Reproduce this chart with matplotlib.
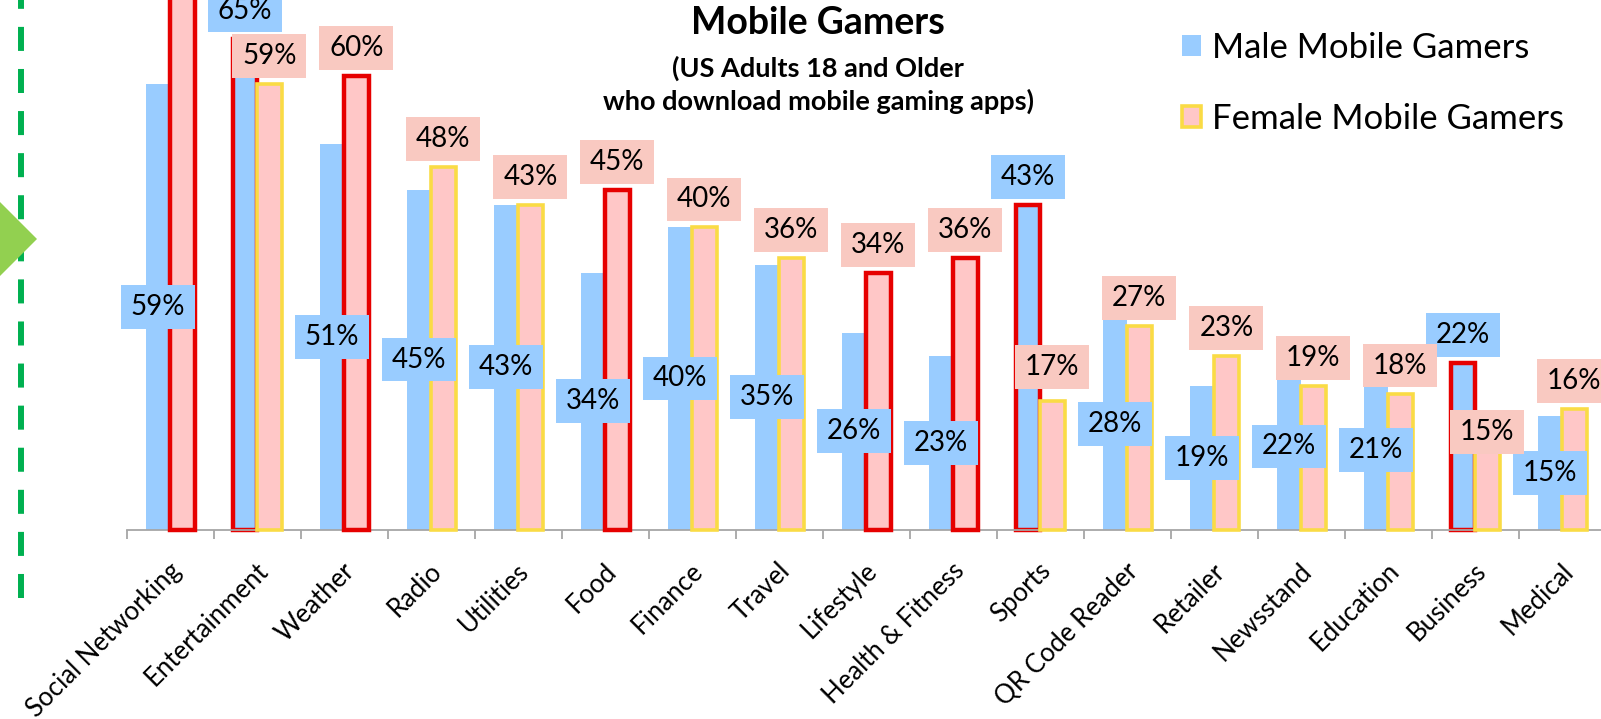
import numpy as np
import matplotlib
matplotlib.use("Agg")
import matplotlib.pyplot as plt
from matplotlib.patches import Rectangle, Polygon, Patch
from matplotlib.lines import Line2D
import matplotlib.transforms as mtransforms

plt.rcParams['font.family'] = ['Lato', 'DejaVu Sans']
plt.rcParams['lines.scale_dashes'] = False

categories = ["Social Networking", "Entertainment", "Weather", "Radio", "Utilities",
              "Food", "Finance", "Travel", "Lifestyle", "Health & Fitness", "Sports",
              "QR Code Reader", "Retailer", "Newsstand", "Education", "Business", "Medical"]
male = [59, 65, 51, 45, 43, 34, 40, 35, 26, 23, 43, 28, 19, 22, 21, 22, 15]
female = [72, 59, 60, 48, 43, 45, 40, 36, 34, 36, 17, 27, 23, 19, 18, 15, 16]

# categories where one gender is clearly ahead get a red outline
male_ahead = ["Entertainment", "Sports", "Business"]
female_ahead = ["Social Networking", "Weather", "Food", "Lifestyle", "Health & Fitness"]

BLUE = "#99CCFF"
PINK = "#FFC7C7"
PINK_BOX = "#F9C9C1"
RED = "#E60000"
YELLOW = "#FADB45"
GRAY = "#A6A6A6"

W, H = 1601, 719
fig = plt.figure(figsize=(W / 100, H / 100), dpi=100)
ax = fig.add_axes([126.7 / W, 1 - 529.5 / H, 17 * 87 / W, 529.5 / H])

x = np.arange(len(categories))
bw = 0.28
for i, cat in enumerate(categories):
    m_hi = cat in male_ahead
    f_hi = cat in female_ahead
    ax.bar(x[i] - bw / 2, male[i], bw, color=BLUE,
           edgecolor=RED if m_hi else BLUE, linewidth=3.2 if m_hi else 0,
           zorder=2, clip_on=False)
    ax.bar(x[i] + bw / 2, female[i], bw, color=PINK,
           edgecolor=RED if f_hi else YELLOW, linewidth=3.2 if f_hi else 2.6,
           zorder=3, clip_on=False)

# value labels in filled boxes
box_w, box_h = 0.85, 5.8
above = 3.7
female_shift = {"Sports": 4.5, "Business": -2.1}


def value_box(xc, yc, text, face, z):
    ax.add_patch(Rectangle((xc - box_w / 2, yc - box_h / 2), box_w, box_h,
                           facecolor=face, edgecolor="none", zorder=z, clip_on=False))
    ax.text(xc, yc, text, ha="center", va="center", fontsize=20,
            color="black", zorder=z + 0.1, clip_on=False)


for i, cat in enumerate(categories):
    if cat in male_ahead:
        yc = male[i] + above
    else:
        yc = male[i] / 2
    value_box(x[i] - bw / 2, yc, f"{male[i]}%", BLUE, 4)

for i, cat in enumerate(categories):
    yc = female[i] + female_shift.get(cat, above)
    value_box(x[i] + bw / 2, yc, f"{female[i]}%", PINK_BOX, 5)

ax.set_xlim(-0.5, 16.5)
ax.set_ylim(0, 70.1)
ax.set_yticks([])
for s in ["top", "left", "right"]:
    ax.spines[s].set_visible(False)
ax.spines["bottom"].set_color(GRAY)
ax.spines["bottom"].set_linewidth(1.3)

ax.set_xticks(x)
ax.set_xticks(np.arange(-0.5, 17, 1), minor=True)
ax.tick_params(axis="x", which="major", length=0, pad=27)
ax.tick_params(axis="x", which="minor", length=6.5, width=1.3, color=GRAY)
ax.set_xticklabels(categories, rotation=45, ha="right", va="center",
                   rotation_mode="anchor", fontsize=18.5)
shift = mtransforms.ScaledTranslation(7 / 100, 0, fig.dpi_scale_trans)
for lab in ax.get_xticklabels():
    lab.set_transform(lab.get_transform() + shift)

# title block
fig.text(818 / W, 1 - 23 / H, "Mobile Gamers", ha="center", va="center",
         fontsize=27, fontweight="bold")
fig.text(818 / W, 1 - 68 / H, "(US Adults 18 and Older", ha="center", va="center",
         fontsize=19.5, fontweight="bold")
fig.text(818 / W, 1 - 101 / H, "who download mobile gaming apps)", ha="center",
         va="center", fontsize=19.5, fontweight="bold")

handles = [Patch(facecolor=BLUE, edgecolor=BLUE, linewidth=0),
           Patch(facecolor=PINK, edgecolor=YELLOW, linewidth=2.6)]
ax.legend(handles, ["Male Mobile Gamers", "Female Mobile Gamers"],
          loc="upper left", bbox_to_anchor=(1182 / W, 1 - 32 / H),
          bbox_transform=fig.transFigure, frameon=False, fontsize=25,
          handlelength=0.55, handleheight=0.55, handletextpad=0.3,
          labelspacing=1.12, borderpad=0, borderaxespad=0)

# side marker: dashed guide and arrow tip
fig.add_artist(Line2D([21 / W, 21 / W], [1 - 598 / H, 1 + 20 / H],
                      transform=fig.transFigure, color="#00B050", linewidth=4.3,
                      linestyle=(0, (17.3, 13.0))))
tip = [(-37, 239), (0, 202), (37, 239), (0, 276)]
fig.add_artist(Polygon([(px / W, 1 - py / H) for px, py in tip], closed=True,
                       transform=fig.transFigure, facecolor="#92D050",
                       edgecolor="none", zorder=5))

fig.savefig("out.png", dpi=100)
